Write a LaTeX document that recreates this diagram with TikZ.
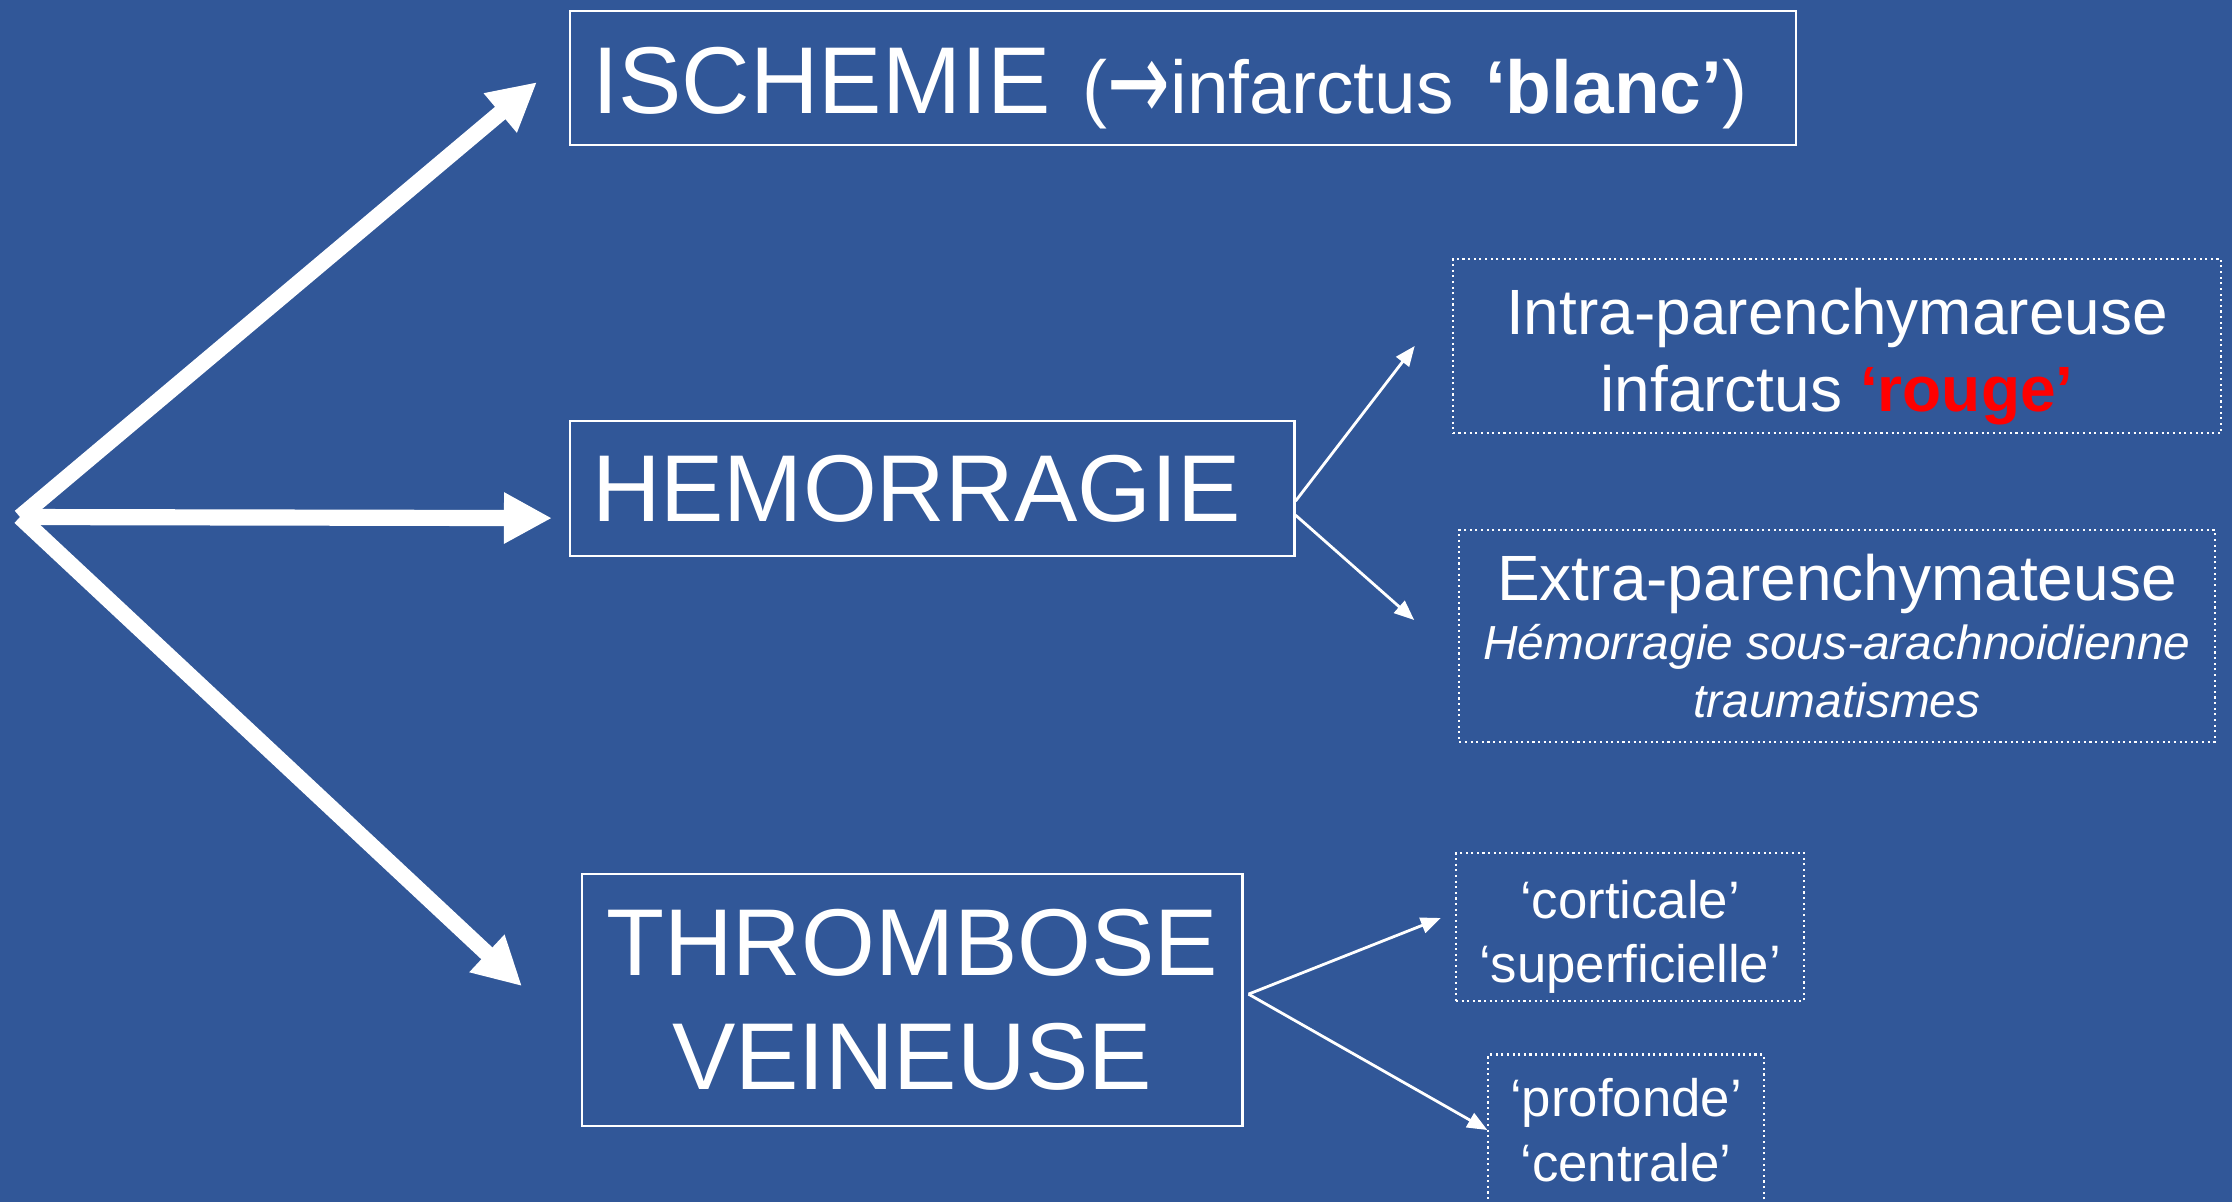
\documentclass[tikz,border=0pt]{standalone}
\usepackage{fontspec}
\usepackage{graphicx}
\setmainfont{Liberation Sans}
\newfontfamily\arrowfont{DejaVu Sans}
\usepackage{tikz}
\usetikzlibrary{arrows.meta,positioning}
\definecolor{slideblue}{RGB}{49,87,152}
\definecolor{rougevif}{RGB}{255,0,0}
\tikzset{
  mainbox/.style={draw=white,line width=0.6pt,text=white,inner ysep=0pt,inner xsep=0.22cm,font=\fontsize{27}{32.4}\selectfont},
  subbox/.style={draw=white,densely dotted,line width=0.6pt,text=white,align=center,inner sep=0pt},
  bigarr/.style={-{Triangle[length=0.48cm,width=0.48cm]},line width=4.6pt,white},
  smallarr/.style={-{Triangle[length=0.2cm,width=0.16cm]},line width=0.8pt,white}
}
\newcommand{\subfont}{\fontsize{18.2}{21.9}\selectfont}
\newcommand{\notefont}{\fontsize{13.6}{16.4}\selectfont\itshape}

\begin{document}
\begin{tikzpicture}[x=0.01cm,y=-0.01cm]
  \fill[slideblue] (0,0) rectangle (2232,1202);
  \useasboundingbox (0,0) rectangle (2232,1202);
  \coordinate (orig) at (20,517);
  \node[mainbox,anchor=north west,minimum height=1.34cm,text width=11.81cm,align=left] (isch) at (569,10)
    {\rule{0pt}{0.87cm}ISCHEMIE {\fontsize{21.3}{25}\selectfont(\raisebox{-2pt}{\scalebox{1}[1.5]{\arrowfont →}}infarctus \textbf{‘blanc’})}};
  \node[mainbox,anchor=north west,minimum height=1.35cm,text width=6.80cm,align=left] (hemo) at (569,420) {HEMORRAGIE};
  \node[mainbox,anchor=north west,minimum width=6.60cm,minimum height=2.52cm,inner xsep=0pt,align=center] (thromb) at (581,873)
    {THROMBOSE\\VEINEUSE};
  \node[subbox,minimum width=7.68cm,minimum height=1.74cm,font=\subfont] (intra) at (1837,346)
    {\rule{0pt}{0.67cm}Intra-parenchymareuse\\infarctus \textcolor{rougevif}{\textbf{‘rouge’}}};
  \node[subbox,minimum width=7.55cm,minimum height=2.12cm] (extra) at (1837,636)
    {\subfont Extra-parenchymateuse\\[2pt]\notefont Hémorragie sous-arachnoidienne\\[3pt]\notefont traumatismes};
  \node[subbox,minimum width=3.48cm,minimum height=1.48cm,font=\fontsize{15}{18.4}\selectfont] (cort) at (1630,927)
    {\rule{0pt}{0.58cm}‘corticale’\\‘superficielle’};
  \node[subbox,minimum width=2.75cm,minimum height=1.51cm,font=\fontsize{15}{18.4}\selectfont] (prof) at (1626,1130)
    {‘profonde’\\‘centrale’};
  % grandes fleches
  \draw[bigarr] (orig) -- ([xshift=-0.32cm,yshift=-0.04cm]isch.west);
  \draw[bigarr] (orig) -- ([xshift=-0.17cm,yshift=-0.295cm]hemo.west);
  \draw[bigarr] (orig) -- ([xshift=-0.59cm,yshift=0.14cm]thromb.west);
  % petites fleches
  \draw[smallarr] ([yshift=-0.125cm]hemo.east) -- ([xshift=-0.37cm]intra.west);
  \draw[smallarr] ([yshift=-0.265cm]hemo.east) -- ([xshift=-0.44cm,yshift=0.16cm]extra.west);
  \draw[smallarr] ([xshift=0.05cm,yshift=0.06cm]thromb.east) -- ([xshift=-0.14cm,yshift=0.09cm]cort.west);
  \draw[smallarr] ([xshift=0.05cm,yshift=0.06cm]thromb.east) -- (prof.west);
\end{tikzpicture}
\end{document}
